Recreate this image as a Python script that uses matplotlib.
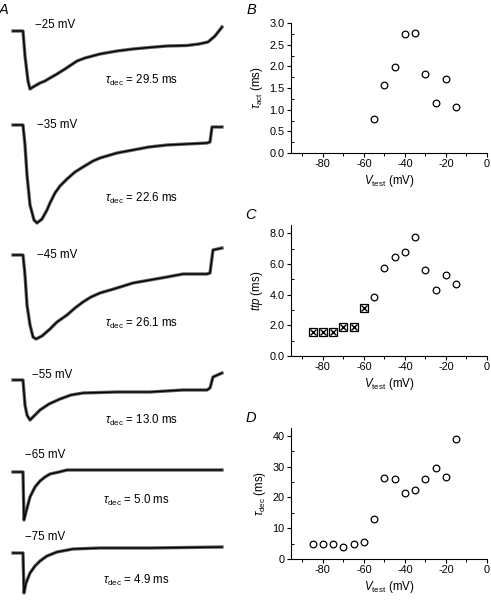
import numpy as np
import matplotlib
matplotlib.use("Agg")
import matplotlib.pyplot as plt
from matplotlib.ticker import MultipleLocator, FormatStrFormatter

plt.rcParams['font.family'] = ['Liberation Sans', 'DejaVu Sans']
plt.rcParams['mathtext.fontset'] = 'custom'
plt.rcParams['mathtext.rm'] = 'Liberation Sans'
plt.rcParams['mathtext.it'] = 'Liberation Sans:italic'
plt.rcParams['mathtext.sf'] = 'Liberation Sans'

# ---- data: panel B (tau activation) ----
v_act = [-55, -50, -45, -40, -35, -30, -25, -20, -15]
tau_act = [0.78, 1.56, 1.99, 2.75, 2.76, 1.82, 1.16, 1.71, 1.06]

# ---- panel C (time to peak) ----
v_ttp_x = [-85, -80, -75, -70, -65, -60]
ttp_x = [1.59, 1.59, 1.59, 1.90, 1.90, 3.12]
v_ttp = [-55, -50, -45, -40, -35, -30, -25, -20, -15]
ttp = [3.84, 5.73, 6.47, 6.78, 7.74, 5.60, 4.29, 5.30, 4.73]

# ---- panel D (tau decay) ----
v_dec = [-85, -80, -75, -70, -65, -60, -55, -50, -45, -40, -35, -30, -25, -20, -15]
tau_dec = [4.8, 4.8, 4.8, 3.9, 5.0, 5.4, 13.0, 26.4, 26.1, 21.6, 22.6, 26.0, 29.5, 26.7, 39.0]

# ---- panel A traces (time in ms, current in a.u., negative = inward) ----
trace_labels = ['\u221225 mV', '\u221235 mV', '\u221245 mV', '\u221255 mV', '\u221265 mV', '\u221275 mV']
trace_tau = ['29.5', '22.6', '26.1', '13.0', '5.0', '4.9']

t_25 = [-5, 0, 1, 2.5, 3.5, 5, 8.5, 11, 13.5, 17, 21, 24, 27, 31, 38.5, 47, 55, 63,
        72, 82, 88, 92.5, 96, 99.5]
i_25 = [0, 0, -25, -50, -58, -56, -52, -50, -47, -43, -38, -34, -30, -27, -23, -20, -18, -16.5,
        -15, -14.5, -13, -11, -5, 4]
t_35 = [-5, 0, 1, 2, 3.5, 5.5, 7, 9.5, 12, 13.5, 16, 18.5, 22, 26, 30, 35, 38.5, 47, 55,
        63, 72, 82, 92, 93.5, 94.5, 99.5]
i_35 = [0, 0, -20, -50, -80, -95, -98, -94, -85, -78, -68, -61, -54, -47, -42, -36, -33, -28, -25,
        -22, -20, -19, -18, -17, -2, -2]
t_45 = [-5, 0, 1, 2, 3.5, 5, 6.5, 9.5, 13.5, 17, 22, 26, 30, 34, 38.5, 47, 55, 63.5, 72, 80,
        92, 93.5, 95, 99.5]
i_45 = [0, 0, -20, -50, -70, -82, -84, -81, -74, -67, -60, -53, -47, -42, -38, -33, -28, -25, -22, -19,
        -19, -18, 5, 7]
t_55 = [-5, 0, 1, 2, 3.5, 5, 8.5, 13, 18.5, 24, 30, 47, 63.5, 80, 92, 93.5, 95, 99.5]
i_55 = [0, 0, -25, -35, -40, -37, -30, -24, -19, -15, -13, -12, -12, -10, -10, -8, 3, 7]
t_65 = [-5, 0, 0.5, 1.5, 3.5, 6, 8.5, 11, 13.5, 18, 22, 38.5, 63.5, 99.5]
i_65 = [0, 0, -48, -40, -25, -15, -9, -5, -2, 0, 2, 2, 2, 2]
t_75 = [-5, 0, 0.5, 1.5, 3.5, 6, 8.5, 12, 17, 25, 38.5, 63.5, 99.5]
i_75 = [0, 0, -40, -30, -20, -13, -8, -3, 1, 4, 5, 5, 6]

traces = [(t_25, i_25), (t_35, i_35), (t_45, i_45), (t_55, i_55), (t_65, i_65), (t_75, i_75)]

W, H = 491, 601
fig = plt.figure(figsize=(W / 100, H / 100), dpi=100)

# layout (pixels)
baselines = [31, 125, 255, 380, 472, 553]
mv_pos = [(35, 25), (37, 125), (37, 255), (32, 375), (25, 455), (25, 537)]
tau_pos = [(105, 80), (105, 198), (105, 323), (105, 420), (103, 500), (103, 580)]


def px_t(x):
    return (x - 23) * 0.5


axA = fig.add_axes([0, 0, 240 / W, 1])
axA.set_xlim(px_t(0), px_t(240))
axA.set_ylim(-H, 0)
axA.axis('off')
for k, (t, cur) in enumerate(traces):
    y = np.array(cur) - baselines[k]
    axA.plot(t, y, color='#606060', lw=2.4, solid_joinstyle='round')
    axA.plot(t, y, color='black', lw=1.0)
    axA.text(px_t(mv_pos[k][0]), -mv_pos[k][1], trace_labels[k], fontsize=8.3,
             ha='left', va='center')
    axA.text(px_t(tau_pos[k][0]), -tau_pos[k][1],
             r'$\tau_{\rm dec}$ = ' + trace_tau[k] + ' ms', fontsize=8.3,
             ha='left', va='center')
fig.text(4 / W, 1 - 10 / H, 'A', fontsize=10.5, style='italic', ha='center', va='center')


def style_ax(ax, ymax, ymajor, yminor, yfmt):
    for s in ['top', 'right']:
        ax.spines[s].set_visible(False)
    for s in ['left', 'bottom']:
        ax.spines[s].set_linewidth(0.8)
    ax.set_xlim(-95.5, 0)
    ax.set_ylim(0, ymax)
    ax.xaxis.set_major_locator(MultipleLocator(20))
    ax.xaxis.set_minor_locator(MultipleLocator(10))
    ax.yaxis.set_major_locator(MultipleLocator(ymajor))
    ax.yaxis.set_minor_locator(MultipleLocator(yminor))
    ax.yaxis.set_major_formatter(FormatStrFormatter(yfmt))
    ax.xaxis.set_major_formatter(FormatStrFormatter('%d'))
    ax.tick_params(axis='both', which='major', direction='out', length=3, width=0.8,
                   labelsize=7.8, pad=1.5)
    ax.tick_params(axis='x', which='minor', direction='out', length=2, width=0.7)
    ax.tick_params(axis='y', which='minor', direction='in', length=2, width=0.7)
    ax.set_xlabel(r'$V_{\rm test}$ (mV)', fontsize=8.3, labelpad=3)
    ax.patch.set_visible(False)


circ = dict(marker='o', ls='none', ms=4.8, mfc='white', mec='black', mew=0.9)

# B
axB = fig.add_axes([291 / W, 1 - 153 / H, 196 / W, 130 / H])
style_ax(axB, 3.0, 0.5, 0.25, '%.1f')
axB.plot(v_act, tau_act, **circ)
axB.set_ylabel(r'$\tau_{\rm act}$ (ms)', fontsize=8.3, labelpad=3)
fig.text(251 / W, 1 - 10 / H, 'B', fontsize=10.5, style='italic', ha='center', va='center')

# C
axC = fig.add_axes([291 / W, 1 - 356 / H, 196 / W, 131 / H])
style_ax(axC, 8.55, 2, 1, '%.1f')
axC.plot(v_ttp_x, ttp_x, marker='s', ls='none', ms=5.3, mfc='white', mec='black', mew=0.9)
axC.plot(v_ttp_x, ttp_x, marker='x', ls='none', ms=4.0, color='black', mew=1.0)
axC.plot(v_ttp, ttp, **circ)
axC.set_ylabel(r'$ttp$ (ms)', fontsize=8.3, labelpad=3)
fig.text(251 / W, 1 - 215 / H, 'C', fontsize=10.5, style='italic', ha='center', va='center')

# D
axD = fig.add_axes([291 / W, 1 - 559 / H, 196 / W, 131 / H])
style_ax(axD, 42.6, 10, 5, '%d')
axD.plot(v_dec, tau_dec, **circ)
axD.set_ylabel(r'$\tau_{\rm dec}$ (ms)', fontsize=8.3, labelpad=3)
fig.text(251 / W, 1 - 418 / H, 'D', fontsize=10.5, style='italic', ha='center', va='center')

fig.savefig('out.png', dpi=100)
